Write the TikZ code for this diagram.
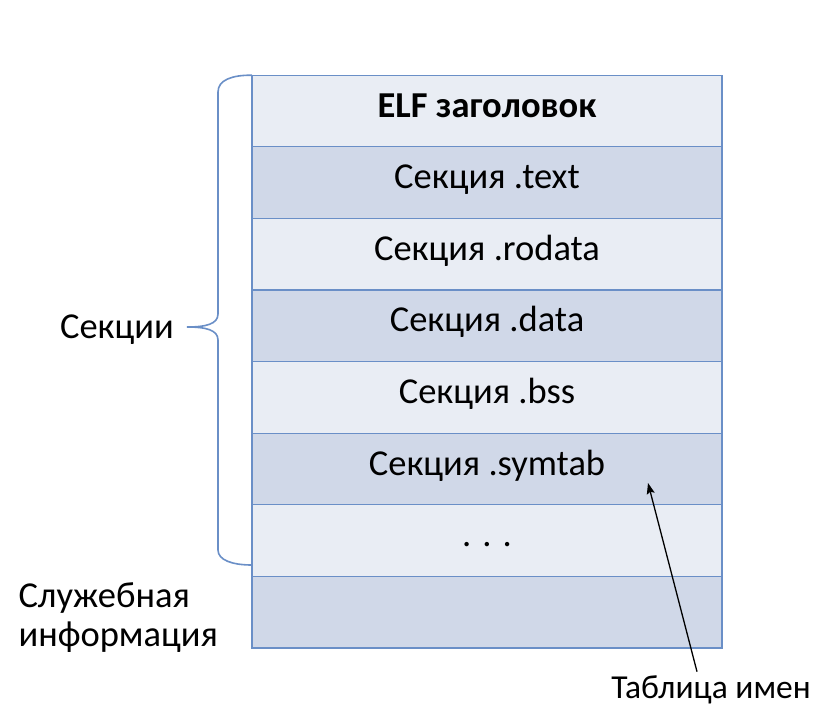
\documentclass[tikz,border=0pt]{standalone}
\usepackage{fontspec}
\setmainfont{Carlito}
\usetikzlibrary{positioning,arrows.meta}
\definecolor{rowlight}{HTML}{E9EDF4}
\definecolor{rowdark}{HTML}{D0D8E8}
\definecolor{rowline}{HTML}{6A8FC7}
\tikzset{>={Stealth[length=11pt,width=8pt,inset=2pt]}}

\begin{document}
\begin{tikzpicture}[x=1pt,y=-1pt,
    row/.style={draw=rowline, line width=1.3pt, minimum width=470pt,
      minimum height=71.6pt, inner sep=0pt, outer sep=0pt,
      text height=25pt, text depth=13pt},
    light/.style={row, fill=rowlight},
    dark/.style={row, fill=rowdark},
    every node/.style={font=\fontsize{36.5}{38}\selectfont}]
  \useasboundingbox (0,0) rectangle (830,715);
  % the file, top to bottom
  \node[light] (hdr) at (487,111) {\textbf{ELF заголовок}};
  \node[dark, below=0pt of hdr] (text) {Секция .text};
  \node[light, below=0pt of text] (rodata) {Секция .rodata};
  \node[dark, below=0pt of rodata] (data) {Секция .data};
  \node[light, below=0pt of data] (bss) {Секция .bss};
  \node[dark, below=0pt of bss] (symtab) {Секция .symtab};
  \node[light, below=0pt of symtab] (dots) {. . .};
  \node[dark, below=0pt of dots] (svcrow) {};
  % labels
  \node[anchor=base] (secs) at (117,338) {Секции};
  \node[anchor=base west, align=left, font=\fontsize{36.5}{39}\selectfont] (svc) at (15,646) {Служебная\\информация};
  \node[anchor=base, font=\fontsize{33.5}{38}\selectfont] (names) at (711,698) {Таблица имен};
  % brace
  \coordinate (bracetip) at (187,327);
  \coordinate (bracebot) at (252,565);
  \draw[rowline, line width=1.6pt] (hdr.north west)
    .. controls (232,75) and (218,80) .. (218,92) -- (218,314)
    .. controls (218,324) and (206,327) .. (bracetip)
    .. controls (206,327) and (218,330) .. (218,340) -- (218,550)
    .. controls (218,560) and (232,565) .. (bracebot);
  % arrow
  \coordinate (symtip) at (648,483);
  \draw[->, line width=1.3pt] ([xshift=-14pt]names.north) -- (symtip);
\end{tikzpicture}
\end{document}
